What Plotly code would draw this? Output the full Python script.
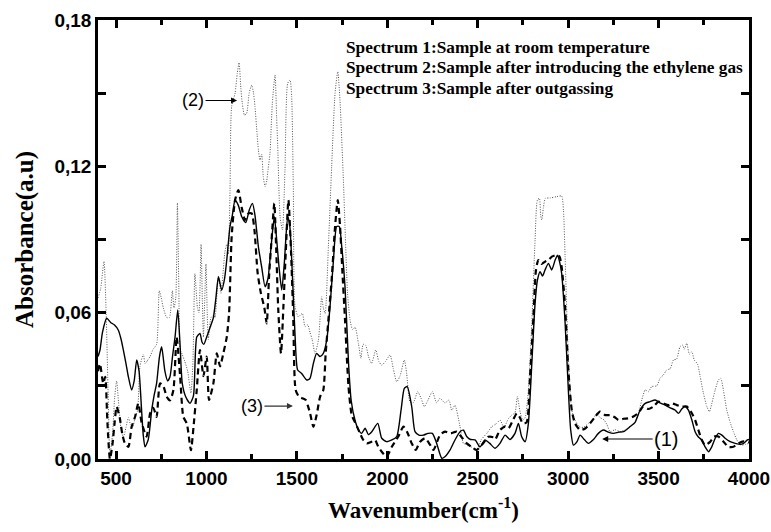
import plotly.graph_objects as go

# ---- data ----
wn2 = [400, 415, 433, 445, 455, 466, 480, 492, 503, 515, 528, 540, 555, 568, 580, 592, 605, 619, 632, 651,
       660, 670, 688, 705, 724, 739, 750, 761, 780, 795, 811, 820, 830, 839, 847, 854, 865, 880, 896, 914,
       925, 936, 950, 958, 970, 977, 983, 990, 997, 1004, 1010, 1025, 1040, 1047, 1066, 1080, 1090, 1102, 1112, 1121,
       1130, 1139, 1158, 1170, 1180, 1190, 1198, 1210, 1222, 1236, 1250, 1260, 1268, 1280, 1287, 1296, 1305, 1314, 1324, 1333,
       1341, 1351, 1364, 1379, 1388, 1394, 1407, 1420, 1434, 1449, 1462, 1471, 1480, 1490, 1508, 1530, 1545, 1560, 1572, 1585,
       1600, 1619, 1637, 1646, 1656, 1674, 1692, 1711, 1726, 1738, 1757, 1766, 1780, 1794, 1808, 1822, 1840, 1854, 1866, 1880,
       1896, 1913, 1936, 1953, 1969, 1990, 2015, 2033, 2052, 2070, 2094, 2107, 2125, 2143, 2168, 2186, 2205, 2224, 2249, 2273,
       2291, 2319, 2341, 2356, 2374, 2402, 2421, 2440, 2463, 2494, 2520, 2550, 2577, 2605, 2623, 2645, 2670, 2688, 2706, 2719,
       2734, 2749, 2762, 2780, 2799, 2817, 2830, 2841, 2848, 2854, 2863, 2874, 2900, 2937, 2964, 2974, 2983, 3001, 3020, 3038,
       3062, 3085, 3112, 3140, 3158, 3176, 3199, 3215, 3232, 3260, 3287, 3315, 3343, 3370, 3389, 3407, 3426, 3444, 3462, 3490,
       3508, 3527, 3545, 3564, 3582, 3600, 3619, 3634, 3642, 3656, 3670, 3684, 3697, 3715, 3730, 3748, 3767, 3781, 3795, 3813,
       3831, 3844, 3859, 3877, 3896, 3914, 3933, 3955, 3980, 4000]
abs2 = [0.066, 0.070, 0.081, 0.060, 0.030, 0.002, 0.010, 0.025, 0.032, 0.022, 0.012, 0.009, 0.013, 0.017, 0.014, 0.013, 0.017, 0.020, 0.038, 0.043,
        0.039, 0.040, 0.042, 0.045, 0.047, 0.069, 0.066, 0.062, 0.058, 0.058, 0.069, 0.062, 0.066, 0.105, 0.070, 0.045, 0.043, 0.040, 0.036, 0.027,
        0.040, 0.076, 0.062, 0.060, 0.088, 0.065, 0.050, 0.065, 0.080, 0.060, 0.049, 0.058, 0.059, 0.058, 0.075, 0.068, 0.075, 0.085, 0.088, 0.084,
        0.110, 0.1445, 0.150, 0.158, 0.1625, 0.152, 0.1458, 0.141, 0.1417, 0.150, 0.1533, 0.150, 0.1445, 0.133, 0.1267, 0.1226, 0.125, 0.1158, 0.1117, 0.114,
        0.119, 0.1253, 0.1458, 0.1574, 0.140, 0.128, 0.0993, 0.0939, 0.1185, 0.154, 0.1554, 0.1486, 0.1117, 0.0624, 0.0583, 0.0597, 0.0542, 0.055, 0.052, 0.0488,
        0.0433, 0.0488, 0.0665, 0.062, 0.0597, 0.087, 0.1198, 0.150, 0.1588, 0.1472, 0.1144, 0.095, 0.068, 0.057, 0.053, 0.054, 0.0474, 0.0413, 0.047, 0.0467,
        0.042, 0.0392, 0.0447, 0.040, 0.0385, 0.040, 0.0427, 0.037, 0.0317, 0.034, 0.0406, 0.035, 0.0235, 0.023, 0.0276, 0.025, 0.0215, 0.024, 0.0276, 0.023,
        0.0249, 0.023, 0.0242, 0.020, 0.022, 0.0133, 0.0064, 0.006, 0.005, 0.0037, 0.008, 0.0105, 0.0132, 0.0146, 0.016, 0.013, 0.0166, 0.018, 0.019, 0.0256,
        0.0194, 0.016, 0.017, 0.0283, 0.056, 0.0898, 0.1062, 0.1069, 0.100, 0.098, 0.103, 0.1069, 0.107, 0.1076, 0.1078, 0.102, 0.083, 0.0419, 0.020, 0.016,
        0.0132, 0.013, 0.0146, 0.0166, 0.0187, 0.017, 0.016, 0.014, 0.0112, 0.012, 0.0112, 0.012, 0.0133, 0.0153, 0.0187, 0.0242, 0.0283, 0.0276, 0.0297, 0.030,
        0.0331, 0.0345, 0.0365, 0.037, 0.0406, 0.041, 0.0461, 0.0467, 0.045, 0.0474, 0.043, 0.044, 0.0406, 0.039, 0.0338, 0.0269, 0.0215, 0.0194, 0.023, 0.0283,
        0.0324, 0.0331, 0.028, 0.0201, 0.015, 0.0112, 0.0078, 0.0057, 0.006, 0.0065]

wn1 = [400, 411, 425, 448, 470, 490, 512, 528, 540, 555, 568, 586, 600, 614, 627, 641, 650, 660, 678, 697,
       710, 724, 740, 752, 770, 785, 798, 812, 826, 841, 853, 866, 885, 909, 928, 946, 964, 975, 985, 1001,
       1020, 1038, 1052, 1066, 1084, 1100, 1112, 1130, 1143, 1158, 1176, 1195, 1217, 1236, 1254, 1268, 1287, 1305, 1324, 1340,
       1357, 1375, 1388, 1401, 1416, 1430, 1449, 1460, 1471, 1490, 1504, 1526, 1554, 1572, 1591, 1609, 1628, 1646, 1665, 1683,
       1702, 1720, 1734, 1748, 1766, 1785, 1800, 1821, 1840, 1858, 1877, 1895, 1914, 1947, 1969, 1996, 2025, 2052, 2076, 2094,
       2110, 2135, 2153, 2175, 2199, 2225, 2249, 2273, 2301, 2320, 2347, 2374, 2402, 2421, 2439, 2460, 2485, 2513, 2540, 2565,
       2596, 2623, 2651, 2678, 2706, 2725, 2743, 2762, 2780, 2799, 2817, 2830, 2845, 2858, 2872, 2891, 2909, 2928, 2941, 2952,
       2964, 2983, 3001, 3014, 3029, 3048, 3066, 3089, 3112, 3140, 3167, 3195, 3222, 3250, 3280, 3306, 3343, 3370, 3398, 3426,
       3453, 3481, 3508, 3536, 3564, 3591, 3610, 3628, 3647, 3665, 3684, 3702, 3720, 3739, 3757, 3776, 3794, 3813, 3831, 3850,
       3868, 3896, 3924, 3951, 3970, 3991, 4000]
abs1 = [0.042, 0.0447, 0.052, 0.0577, 0.056, 0.055, 0.0529, 0.049, 0.0447, 0.039, 0.0337, 0.0283, 0.032, 0.0406, 0.036, 0.0201, 0.010, 0.005, 0.008, 0.020,
        0.026, 0.031, 0.042, 0.046, 0.036, 0.032, 0.0337, 0.042, 0.050, 0.0611, 0.048, 0.031, 0.0255, 0.0228, 0.026, 0.050, 0.0515, 0.048, 0.047, 0.050,
        0.054, 0.058, 0.066, 0.0747, 0.0693, 0.074, 0.0816, 0.0953, 0.100, 0.1062, 0.104, 0.0993, 0.0969, 0.102, 0.1048, 0.100, 0.087, 0.0788, 0.0706, 0.074,
        0.087, 0.0993, 0.090, 0.0788, 0.0693, 0.080, 0.0993, 0.096, 0.082, 0.0501, 0.0365, 0.0351, 0.0324, 0.033, 0.0392, 0.0433, 0.042, 0.0433, 0.0488, 0.0624,
        0.0816, 0.0953, 0.0953, 0.087, 0.0706, 0.040, 0.024, 0.016, 0.012, 0.0105, 0.0126, 0.010, 0.0112, 0.0146, 0.0085, 0.0071, 0.0078, 0.0092, 0.0201, 0.029,
        0.0297, 0.0214, 0.0112, 0.0098, 0.0098, 0.0105, 0.0105, 0.0064, 0.0003, 0.001, 0.0037, 0.0078, 0.0112, 0.0118, 0.0092, 0.008, 0.0078, 0.005, 0.0078, 0.0065,
        0.0044, 0.0064, 0.0098, 0.008, 0.0105, 0.0146, 0.0091, 0.0071, 0.0146, 0.0392, 0.0638, 0.0734, 0.0768, 0.075, 0.0775, 0.0802, 0.0775, 0.0816, 0.0836, 0.081,
        0.0761, 0.056, 0.0283, 0.0119, 0.0057, 0.007, 0.0098, 0.008, 0.0064, 0.008, 0.0105, 0.0119, 0.011, 0.0105, 0.011, 0.0112, 0.0133, 0.015, 0.0201, 0.0228,
        0.0235, 0.0242, 0.023, 0.0221, 0.021, 0.0201, 0.0187, 0.0205, 0.0215, 0.020, 0.016, 0.0112, 0.009, 0.0078, 0.005, 0.003, 0.005, 0.0085, 0.0105, 0.0098,
        0.0085, 0.0071, 0.0064, 0.006, 0.0064, 0.0078, 0.008]

wn3 = [400, 411, 429, 440, 452, 466, 480, 492, 503, 520, 535, 549, 568, 586, 605, 623, 641, 669, 688, 706,
       724, 743, 761, 780, 798, 817, 835, 854, 872, 891, 914, 928, 946, 964, 983, 1001, 1014, 1038, 1057, 1075,
       1093, 1112, 1125, 1139, 1158, 1176, 1195, 1213, 1232, 1250, 1265, 1283, 1301, 1320, 1333, 1346, 1361, 1375, 1386, 1397,
       1412, 1425, 1438, 1453, 1468, 1480, 1493, 1512, 1530, 1549, 1560, 1573, 1591, 1609, 1628, 1646, 1659, 1674, 1692, 1711,
       1726, 1738, 1751, 1766, 1785, 1803, 1822, 1849, 1867, 1886, 1910, 1932, 1950, 1969, 1996, 2025, 2061, 2089, 2110, 2135,
       2157, 2180, 2208, 2235, 2255, 2291, 2319, 2350, 2384, 2410, 2439, 2465, 2494, 2525, 2559, 2580, 2596, 2623, 2651, 2670,
       2695, 2716, 2733, 2749, 2770, 2789, 2808, 2822, 2835, 2853, 2872, 2891, 2910, 2933, 2952, 2964, 2983, 3001, 3020, 3038,
       3066, 3094, 3121, 3149, 3176, 3204, 3232, 3260, 3278, 3306, 3333, 3361, 3389, 3416, 3444, 3472, 3499, 3527, 3554, 3573,
       3601, 3628, 3656, 3684, 3702, 3720, 3739, 3757, 3785, 3807, 3831, 3859, 3886, 3914, 3942, 3970, 4000]
abs3 = [0.036, 0.039, 0.031, 0.0337, 0.015, 0.000, 0.006, 0.015, 0.0214, 0.017, 0.010, 0.0064, 0.005, 0.0132, 0.0173, 0.0228, 0.015, 0.0092, 0.0187, 0.021,
        0.0173, 0.031, 0.030, 0.0255, 0.024, 0.0283, 0.050, 0.034, 0.0173, 0.0146, 0.0036, 0.013, 0.0283, 0.0447, 0.034, 0.042, 0.0242, 0.031, 0.0433, 0.038,
        0.0433, 0.050, 0.060, 0.091, 0.1062, 0.1103, 0.103, 0.098, 0.1007, 0.1007, 0.094, 0.0761, 0.0679, 0.062, 0.0556, 0.075, 0.0911, 0.1048, 0.085, 0.061,
        0.0433, 0.062, 0.0843, 0.1062, 0.084, 0.057, 0.0283, 0.0255, 0.0249, 0.0242, 0.022, 0.0187, 0.0132, 0.018, 0.0255, 0.0283, 0.0433, 0.057, 0.0734, 0.0953,
        0.1062, 0.096, 0.0775, 0.057, 0.030, 0.018, 0.015, 0.0105, 0.0078, 0.0064, 0.007, 0.0078, 0.005, 0.003, 0.0009, 0.005, 0.0092, 0.0133, 0.011, 0.0064,
        0.0037, 0.007, 0.0085, 0.006, 0.0037, 0.0098, 0.0112, 0.0105, 0.0112, 0.009, 0.0064, 0.005, 0.0037, 0.006, 0.0091, 0.009, 0.008, 0.0119, 0.0133, 0.0126,
        0.016, 0.0187, 0.017, 0.0146, 0.015, 0.0337, 0.0584, 0.0775, 0.0816, 0.080, 0.0809, 0.0816, 0.083, 0.0836, 0.083, 0.0788, 0.0624, 0.0365, 0.020, 0.0146,
        0.0119, 0.0125, 0.0146, 0.0173, 0.0194, 0.018, 0.018, 0.017, 0.016, 0.0165, 0.0167, 0.0174, 0.019, 0.0215, 0.0205, 0.0215, 0.0235, 0.0228, 0.0221, 0.0228,
        0.0221, 0.0215, 0.0215, 0.0187, 0.016, 0.0119, 0.0078, 0.0057, 0.007, 0.0092, 0.0092, 0.0071, 0.005, 0.005, 0.0064, 0.0072, 0.0068]

x_tickvals = [500, 1000, 1500, 2000, 2500, 3000, 3500, 4000]
x_ticktext = ["500", "1000", "1500", "2000", "2500", "3000", "3500", "4000"]
y_tickvals = [0.00, 0.06, 0.12, 0.18]
y_ticktext = ["0,00", "0,06", "0,12", "0,18"]

legend_lines = ["Spectrum 1:Sample at room temperature",
                "Spectrum 2:Sample after introducing the ethylene gas",
                "Spectrum 3:Sample after outgassing"]

fig = go.Figure()
fig.add_trace(go.Scatter(x=wn2, y=abs2, mode="lines", name="Spectrum 2",
                         line=dict(color="#555555", width=1, dash="1px,1.5px", shape="spline", smoothing=0.6)))
fig.add_trace(go.Scatter(x=wn3, y=abs3, mode="lines", name="Spectrum 3",
                         line=dict(color="black", width=2.2, dash="6px,4px", shape="spline", smoothing=0.6)))
fig.add_trace(go.Scatter(x=wn1, y=abs1, mode="lines", name="Spectrum 1",
                         line=dict(color="black", width=1.4, shape="spline", smoothing=0.6)))

tickfont = dict(family="Liberation Sans", size=19, color="black")
serif = "Liberation Serif"

fig.update_xaxes(range=[400, 4000], tickvals=x_tickvals, ticktext=["<b>" + t + "</b>" for t in x_ticktext],
                 ticks="inside", ticklen=8, tickwidth=2.5, tickcolor="black",
                 minor=dict(dtick=250, tick0=0, ticks="inside", ticklen=5, tickwidth=2.5, tickcolor="black"),
                 showline=True, linewidth=2.5, linecolor="black", mirror="ticks",
                 showgrid=False, zeroline=False, tickfont=tickfont, automargin=False,
                 title=dict(text="<b>Wavenumber(cm<sup>-1</sup>)</b>", font=dict(family=serif, size=23, color="black"),
                            standoff=15))
fig.update_yaxes(range=[0, 0.18], tickvals=y_tickvals, ticktext=["<b>" + t + "</b>" for t in y_ticktext],
                 ticks="inside", ticklen=8, tickwidth=2.5, tickcolor="black",
                 minor=dict(dtick=0.03, tick0=0, ticks="inside", ticklen=8, tickwidth=2.5, tickcolor="black"),
                 showline=True, linewidth=2.5, linecolor="black", mirror="ticks",
                 showgrid=False, zeroline=False, tickfont=tickfont, automargin=False,
                 title=dict(text="<b>Absorbance(a.u)</b>", font=dict(family=serif, size=25, color="black"),
                            standoff=14))

for i, t in enumerate(legend_lines):
    fig.add_annotation(text="<b>" + t + "</b>", xref="x", yref="paper", x=1761, y=0.938 - i * 0.047,
                       xanchor="left", yanchor="middle", showarrow=False,
                       font=dict(family=serif, size=17.3, color="black"))

lab_font = dict(family="Liberation Sans", size=18, color="black")
fig.add_annotation(text="(2)", x=1169, y=0.147, ax=-44, ay=0, showarrow=True, arrowhead=2,
                   arrowsize=1, arrowwidth=1.2, arrowcolor="black", font=lab_font)
fig.add_annotation(text="(3)", x=1478, y=0.0217, ax=-41, ay=0, showarrow=True, arrowhead=2,
                   arrowsize=1, arrowwidth=1.2, arrowcolor="#333333", font=lab_font)
fig.add_annotation(text="(1)", x=3188, y=0.0082, ax=64, ay=0, showarrow=True, arrowhead=2,
                   arrowsize=1, arrowwidth=1.2, arrowcolor="black", font=dict(family="Liberation Sans", size=20, color="black"))

fig.update_layout(width=771, height=532, margin=dict(l=98, r=22, t=20, b=73),
                  paper_bgcolor="white", plot_bgcolor="white", showlegend=False)

fig.write_html("out.html", config={"displayModeBar": False},
               post_script="document.body.style.margin='0px';")
